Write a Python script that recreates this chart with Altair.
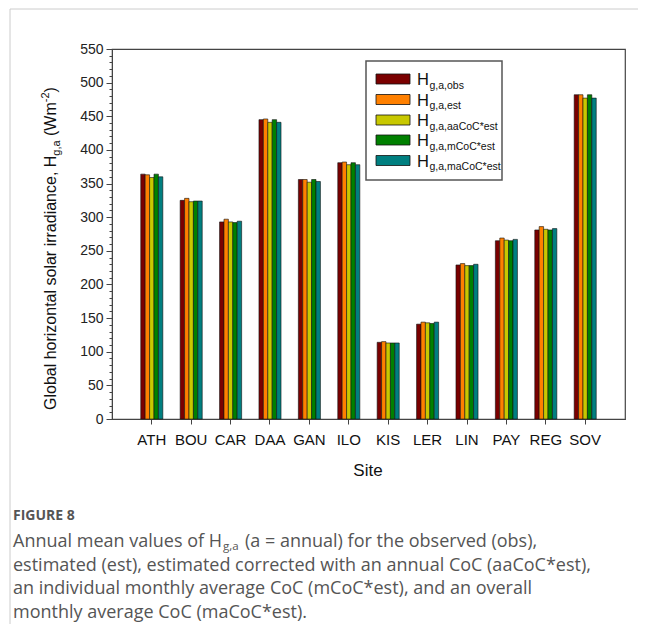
import altair as alt
import pandas as pd

sites = ["ATH", "BOU", "CAR", "DAA", "GAN", "ILO", "KIS", "LER", "LIN", "PAY", "REG", "SOV"]
series = ["obs", "est", "aaCoC*est", "mCoC*est", "maCoC*est"]
colors = ["#7a0000", "#ff8000", "#c8c800", "#008000", "#007f80"]
h_obs = [364, 325, 293, 445, 356, 381, 114, 141, 229, 265, 281, 482]
h_est = [363, 328, 297, 446, 356, 382, 115, 144, 231, 269, 286, 482]
h_aa = [359, 323, 293, 441, 352, 378, 113, 143, 228, 266, 282, 477]
h_m = [364, 324, 292, 445, 356, 381, 113, 142, 228, 265, 281, 482]
h_ma = [360, 324, 294, 441, 353, 378, 113, 144, 230, 267, 283, 477]
y_ticks = list(range(0, 551, 10))

cols = [h_obs, h_est, h_aa, h_m, h_ma]
rows = []
for s, vals in zip(series, cols):
    for site, v in zip(sites, vals):
        rows.append({"site": site, "series": s, "value": v})
df = pd.DataFrame(rows)

FONT = "Liberation Sans"
CAP = "Open Sans"

bars = alt.Chart(df).mark_bar(stroke="#111", strokeWidth=0.6).encode(
    x=alt.X("site:N", sort=sites,
            scale=alt.Scale(paddingInner=0.44, paddingOuter=0.73),
            axis=alt.Axis(title=None, labelAngle=0, labelFontSize=15, labelFont=FONT,
                          labelColor="#111", tickSize=5, labelPadding=8,
                          domainColor="#444", tickColor="#444", grid=False)),
    xOffset=alt.XOffset("series:N", sort=series,
                        scale=alt.Scale(paddingInner=0, paddingOuter=0)),
    y=alt.Y("value:Q", scale=alt.Scale(domain=[0, 550], nice=False),
            axis=alt.Axis(values=y_ticks, title=None, grid=False,
                          labelExpr="datum.value % 50 === 0 ? datum.label : ''",
                          tickSize={"condition": {"test": "datum.value % 50 === 0", "value": 6}, "value": 3},
                          labelOverlap=False, labelFontSize=14, labelFont=FONT,
                          labelColor="#222", labelPadding=3,
                          tickColor="#444", domainColor="#444")),
    color=alt.Color("series:N", sort=series,
                    scale=alt.Scale(domain=series, range=colors), legend=None),
)

one = alt.Data(values=[{}])


def txt(s, x, y, size, font=FONT, color="#111", angle=None, weight="normal", align="left"):
    kw = dict(text=s, align=align, baseline="alphabetic", fontSize=size, font=font,
              color=color, fontWeight=weight)
    if angle is not None:
        kw["angle"] = angle
    return alt.Chart(one).mark_text(**kw).encode(x=alt.value(x), y=alt.value(y))


def box(x, x2, y, y2, fill, stroke, sw):
    return alt.Chart(one).mark_rect(fill=fill, stroke=stroke, strokeWidth=sw).encode(
        x=alt.value(x), x2=alt.value(x2), y=alt.value(y), y2=alt.value(y2))


layers = [bars]

# legend
layers.append(box(254, 390, 12, 131, "white", "#555", 1.5))
row_c = [30, 50.5, 71, 91, 111.5]
for s, c, yc in zip(series, colors, row_c):
    layers.append(box(264, 298, yc - 5, yc + 5, c, "#111", 0.8))
    layers.append(txt("H", 305, yc + 6, 16.5))
    layers.append(txt("g,a," + s, 317.5, yc + 9.5, 10.5))

# y title
layers += [
    txt("Global horizontal solar irradiance, H", -56, 361, 16, angle=270),
    txt("g,a", -52.5, 106.7, 11, angle=270),
    txt("(Wm", -56, 87, 16, angle=270),
    txt("-2", -63, 53.2, 11, angle=270),
    txt(")", -56, 43.4, 16, angle=270),
]
# x title
layers.append(txt("Site", 256, 427, 17, align="center"))

# caption
cc = "#555555"
layers += [
    txt("FIGURE 8", -99, 471, 14, font=CAP, color="#555", weight="bold"),
    txt("Annual mean values of H", -99, 498, 18, font=CAP, color=cc),
    txt("g,a", 111, 500.5, 11.5, font=CAP, color=cc),
    txt("(a = annual) for the observed (obs),", 133, 498, 18, font=CAP, color=cc),
    txt("estimated (est), estimated corrected with an annual CoC (aaCoC*est),", -99, 522, 18, font=CAP, color=cc),
    txt("an individual monthly average CoC (mCoC*est), and an overall", -99, 545, 18, font=CAP, color=cc),
    txt("monthly average CoC (maCoC*est).", -99, 569, 18, font=CAP, color=cc),
]

# page frame lines
layers.append(alt.Chart(one).mark_rule(color="#cccccc", strokeWidth=1).encode(
    x=alt.value(-102), y=alt.value(-40), y2=alt.value(580)))
layers.append(alt.Chart(one).mark_rule(color="#cccccc", strokeWidth=1).encode(
    x=alt.value(-102), x2=alt.value(530), y=alt.value(-40)))

chart = alt.layer(*layers).properties(
    width=513, height=370,
    autosize=alt.AutoSizeParams(type="none"),
    padding={"left": 104, "top": 41, "right": 13, "bottom": 205},
).configure_view(stroke="#444", strokeWidth=1.2)

chart.save("out.html", embed_options={"renderer": "svg", "actions": False})
